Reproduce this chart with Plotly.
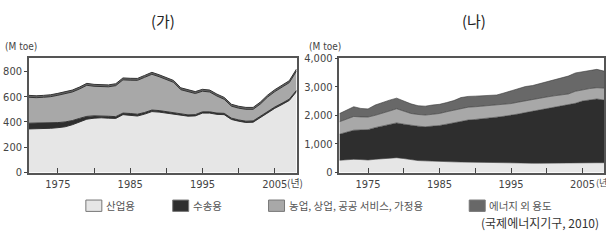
import plotly.graph_objects as go

years = list(range(1971, 2009))

# (가) components, Mtoe
L_industry = [345, 345, 348, 350, 355, 362, 378, 400, 422, 430, 433, 430, 428, 458, 455, 447, 462, 482, 478, 470,
              460, 452, 446, 448, 470, 470, 460, 458, 420, 406, 396, 398, 435, 476, 508, 538, 570, 640]
L_transport = [45, 45, 44, 43, 40, 38, 33, 28, 22, 18, 15, 15, 14, 12, 12, 14, 13, 12, 12, 12,
               11, 10, 10, 10, 10, 10, 10, 10, 10, 10, 10, 10, 10, 10, 10, 10, 10, 10]
L_total = [610, 607, 610, 615, 626, 636, 652, 676, 705, 697, 696, 693, 702, 748, 745, 744, 768, 792, 773, 748,
           728, 670, 653, 640, 658, 652, 620, 594, 540, 524, 515, 515, 557, 612, 655, 688, 726, 818]
L_nonenergy = [15] * len(years)
L_other = [t - i - tr - ne for t, i, tr, ne in zip(L_total, L_industry, L_transport, L_nonenergy)]

# (나) cumulative readings -> components, Mtoe
R_ind_top = [430, 450, 465, 455, 440, 465, 485, 500, 520, 490, 445, 420, 410, 395, 390, 385, 375, 370, 365, 355,
             345, 340, 330, 325, 320, 325, 330, 330, 330, 335, 330, 330, 335, 340, 345, 345, 345, 345]
R_tr_top = [1340, 1420, 1480, 1490, 1500, 1570, 1625, 1680, 1735, 1690, 1645, 1620, 1600, 1620, 1645, 1690, 1740, 1790, 1835, 1855,
            1875, 1905, 1935, 1965, 1995, 2045, 2095, 2140, 2180, 2220, 2260, 2305, 2350, 2420, 2500, 2540, 2570, 2535]
R_ag_top = [1775, 1870, 1960, 1945, 1940, 2000, 2065, 2150, 2230, 2150, 2065, 2030, 2010, 2035, 2065, 2125, 2180, 2235, 2285, 2300,
            2320, 2335, 2350, 2380, 2410, 2460, 2510, 2555, 2600, 2640, 2680, 2710, 2745, 2840, 2895, 2935, 2965, 2950]
R_total = [2060, 2180, 2300, 2240, 2225, 2360, 2450, 2530, 2600, 2505, 2400, 2335, 2320, 2360, 2385, 2445, 2515, 2620, 2660, 2670,
           2685, 2695, 2710, 2780, 2860, 2950, 3005, 3040, 3105, 3170, 3215, 3280, 3370, 3480, 3525, 3570, 3605, 3545]
R_industry = R_ind_top
R_transport = [b - a for a, b in zip(R_ind_top, R_tr_top)]
R_other = [b - a for a, b in zip(R_tr_top, R_ag_top)]
R_nonenergy = [b - a for a, b in zip(R_ag_top, R_total)]

names = ["산업용", "수송용", "농업, 상업, 공공 서비스, 가정용", "에너지 외 용도"]
colors = ["#e6e6e6", "#2e2e2e", "#a8a8a8", "#686868"]

fig = go.Figure()
for vals, nm, c in zip([L_industry, L_transport, L_other, L_nonenergy], names, colors):
    fig.add_trace(go.Scatter(x=years, y=vals, name=nm, stackgroup="L", mode="lines",
                             line=dict(color="#333333", width=1), fillcolor=c,
                             xaxis="x", yaxis="y", showlegend=False, hoverinfo="skip"))
for vals, nm, c in zip([R_industry, R_transport, R_other, R_nonenergy], names, colors):
    fig.add_trace(go.Scatter(x=years, y=vals, name=nm, stackgroup="R", mode="lines",
                             line=dict(color="#3a3a3a", width=0.6), fillcolor=c,
                             xaxis="x2", yaxis="y2", showlegend=False, hoverinfo="skip"))

W, H = 606, 243
tick_font = dict(family="Liberation Sans Narrow, Arial Narrow, DejaVu Sans Condensed, sans-serif", size=11, color="#444")
tickvals = [1975, 1980, 1985, 1990, 1995, 2000, 2005]
ticktext = ["1975", "", "1985", "", "1995", "", "2005"]

def xax(domain, anchor):
    return dict(domain=domain, anchor=anchor, range=[1971, 2008], tickvals=tickvals, ticktext=ticktext,
                ticks="inside", ticklen=5, tickcolor="#444", showline=True, mirror=True, linecolor="#555",
                linewidth=1.5, showgrid=False, zeroline=False, tickfont=tick_font, fixedrange=True)

def yax(domain, anchor, rng, dtick):
    return dict(domain=domain, anchor=anchor, range=rng, dtick=dtick, tickformat=",",
                ticks="outside", ticklen=3, tickcolor="#444", showline=True, mirror=True, linecolor="#555",
                linewidth=1.5, showgrid=False, zeroline=False, tickfont=tick_font, fixedrange=True)

ydom = [1 - 176 / H, 1 - 55 / H]
fig.update_layout(
    width=W, height=H, margin=dict(l=0, r=0, t=0, b=0),
    paper_bgcolor="white", plot_bgcolor="white",
    xaxis=xax([29 / W, 297 / W], "y"),
    yaxis=yax(ydom, "x", [0, 905], 200),
    xaxis2=xax([340 / W, 605 / W], "y2"),
    yaxis2=yax(ydom, "x2", [0, 4000], 1000),
)

ann = []
kfont = "Noto Sans CJK KR, sans-serif"
ann.append(dict(text="(가)", x=163 / W, y=1 - 15 / H, xref="paper", yref="paper", showarrow=False,
                font=dict(family=kfont, size=15, color="#222"), xanchor="center", yanchor="middle"))
ann.append(dict(text="(나)", x=475 / W, y=1 - 15 / H, xref="paper", yref="paper", showarrow=False,
                font=dict(family=kfont, size=15, color="#222"), xanchor="center", yanchor="middle"))
for xp in (3, 308):
    ann.append(dict(text="(M toe)", x=xp / W, y=1 - 43 / H, xref="paper", yref="paper", showarrow=False,
                    font=dict(family=tick_font["family"], size=10, color="#444"), xanchor="left", yanchor="middle"))
ann.append(dict(text="(년)", x=285 / W, y=1 - 187 / H, xref="paper", yref="paper", showarrow=False,
                font=dict(family=kfont, size=10, color="#444"), xanchor="left", yanchor="middle"))
ann.append(dict(text="(년)", x=595 / W, y=1 - 187 / H, xref="paper", yref="paper", showarrow=False,
                font=dict(family=kfont, size=9, color="#444"), xanchor="left", yanchor="middle"))

shapes = []
leg_pos = [86, 173, 269, 470]
for bx, nm, c in zip(leg_pos, names, colors):
    shapes.append(dict(type="rect", xref="paper", yref="paper", x0=bx / W, x1=(bx + 16) / W,
                       y0=1 - 217 / H, y1=1 - 205 / H, fillcolor=c, line=dict(color="#777", width=1)))
    ann.append(dict(text=nm, x=(bx + 18) / W, y=1 - 211 / H, xref="paper", yref="paper", showarrow=False,
                    font=dict(family=kfont, size=10.5, color="#555"), xanchor="left", yanchor="middle"))

ann.append(dict(text="(국제에너지기구, 2010)", x=602 / W, y=1 - 229 / H, xref="paper", yref="paper", showarrow=False,
                font=dict(family=kfont, size=12, color="#333"), xanchor="right", yanchor="middle"))

fig.update_layout(annotations=ann, shapes=shapes)
fig.write_html("out.html", config={"displayModeBar": False},
               post_script="document.body.style.margin='0';document.body.style.overflow='hidden';")
